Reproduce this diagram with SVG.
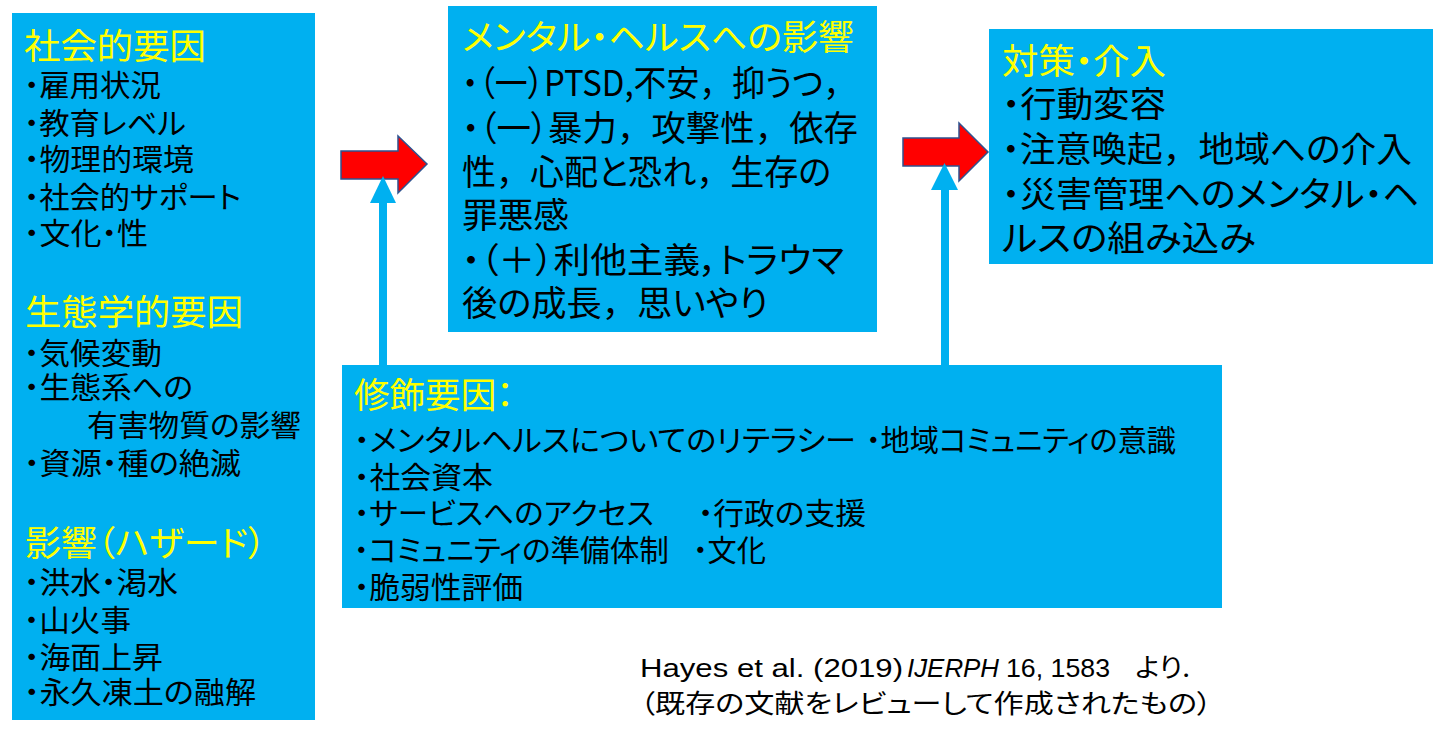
<svg xmlns="http://www.w3.org/2000/svg" width="1440" height="740" viewBox="0 0 1440 740">
<style>
.box{fill:#00B0F0}
text{font-family:"Noto Sans CJK JP","Noto Sans",sans-serif;font-feature-settings:"palt"}
.fw{font-feature-settings:normal}
.h{fill:#FFFF00;font-size:35px}
.t{fill:#000;font-size:30px}
.m{fill:#000;font-size:35px}
.c{fill:#000;font-size:25px;font-family:"Liberation Sans","Noto Sans CJK JP",sans-serif}
.cj{fill:#000;font-size:26px}
.red{fill:#FF0000;stroke:#2F528F;stroke-width:1.5}
.blue{fill:#00B0F0}
</style>
<rect width="1440" height="740" fill="#FFFFFF"/>

<g id="social-ecological-hazard">
<rect class="box" x="12" y="13" width="303" height="707"/>
<text class="h" x="24" y="59" textLength="182" lengthAdjust="spacingAndGlyphs">社会的要因</text>
<text class="t" x="24" y="96" textLength="137" lengthAdjust="spacingAndGlyphs">・雇用状況</text>
<text class="t" x="24" y="134" textLength="162" lengthAdjust="spacingAndGlyphs">・教育レベル</text>
<text class="t" x="24" y="170" textLength="170" lengthAdjust="spacingAndGlyphs">・物理的環境</text>
<text class="t" x="24" y="208" textLength="217" lengthAdjust="spacingAndGlyphs">・社会的サポート</text>
<text class="t" x="24" y="244" textLength="124" lengthAdjust="spacingAndGlyphs">・文化・性</text>
<text class="h" x="25" y="325" textLength="218" lengthAdjust="spacingAndGlyphs">生態学的要因</text>
<text class="t" x="24" y="364" textLength="138" lengthAdjust="spacingAndGlyphs">・気候変動</text>
<text class="t" x="24" y="398" textLength="169" lengthAdjust="spacingAndGlyphs">・生態系への</text>
<text class="t" x="87" y="436" textLength="214" lengthAdjust="spacingAndGlyphs">有害物質の影響</text>
<text class="t" x="24" y="474" textLength="217" lengthAdjust="spacingAndGlyphs">・資源・種の絶滅</text>
<text class="h" x="25" y="556" textLength="241" lengthAdjust="spacingAndGlyphs">影響（ハザード）</text>
<text class="t" x="24" y="593" textLength="154" lengthAdjust="spacingAndGlyphs">・洪水・渇水</text>
<text class="t" x="24" y="631" textLength="107" lengthAdjust="spacingAndGlyphs">・山火事</text>
<text class="t" x="24" y="668" textLength="139" lengthAdjust="spacingAndGlyphs">・海面上昇</text>
<text class="t" x="24" y="703" textLength="232" lengthAdjust="spacingAndGlyphs">・永久凍土の融解</text>
</g>

<g id="mental-health-impact">
<rect class="box" x="448" y="6" width="429" height="326"/>
<text class="h" x="462" y="50" textLength="392" lengthAdjust="spacingAndGlyphs">メンタル・ヘルスへの影響</text>
<text class="m" x="462" y="96" textLength="394" lengthAdjust="spacingAndGlyphs">・（一）PTSD,不安<tspan class="fw">，</tspan>抑うつ<tspan class="fw">，</tspan></text>
<text class="m" x="462" y="141" textLength="396" lengthAdjust="spacingAndGlyphs">・（一）暴力<tspan class="fw">，</tspan>攻撃性<tspan class="fw">，</tspan>依存</text>
<text class="m" x="462" y="185" textLength="369" lengthAdjust="spacingAndGlyphs">性<tspan class="fw">，</tspan>心配と恐れ<tspan class="fw">，</tspan>生存の</text>
<text class="m" x="462" y="228" textLength="107" lengthAdjust="spacingAndGlyphs">罪悪感</text>
<text class="m" x="462" y="273" textLength="382" lengthAdjust="spacingAndGlyphs">・（＋）利他主義，トラウマ</text>
<text class="m" x="462" y="316" textLength="306" lengthAdjust="spacingAndGlyphs">後の成長<tspan class="fw">，</tspan>思いやり</text>
</g>

<g id="countermeasures">
<rect class="box" x="989" y="29" width="444" height="235"/>
<text class="h" x="1002" y="74" textLength="164" lengthAdjust="spacingAndGlyphs">対策・介入</text>
<text class="m" x="1002" y="117" textLength="164" lengthAdjust="spacingAndGlyphs">・行動変容</text>
<text class="m" x="1002" y="162" textLength="410" lengthAdjust="spacingAndGlyphs">・注意喚起<tspan class="fw">，</tspan>地域への介入</text>
<text class="m" x="1002" y="207" textLength="417" lengthAdjust="spacingAndGlyphs">・災害管理へのメンタル・ヘ</text>
<text class="m" x="1002" y="251" textLength="254" lengthAdjust="spacingAndGlyphs">ルスの組み込み</text>
</g>

<g id="modifying-factors">
<rect class="box" x="342" y="365" width="880" height="243"/>
<text class="h" x="354" y="408" textLength="160" lengthAdjust="spacingAndGlyphs">修飾要因：</text>
<text class="t" x="354" y="451" textLength="502" lengthAdjust="spacingAndGlyphs">・メンタルヘルスについてのリテラシー</text>
<text class="t" x="866" y="451" textLength="310" lengthAdjust="spacingAndGlyphs">・地域コミュニティの意識</text>
<text class="t" x="354" y="488" textLength="139" lengthAdjust="spacingAndGlyphs">・社会資本</text>
<text class="t" x="354" y="524" textLength="300" lengthAdjust="spacingAndGlyphs">・サービスへのアクセス</text>
<text class="t" x="698" y="524" textLength="168" lengthAdjust="spacingAndGlyphs">・行政の支援</text>
<text class="t" x="354" y="561" textLength="315" lengthAdjust="spacingAndGlyphs">・コミュニティの準備体制</text>
<text class="t" x="693" y="561" textLength="73" lengthAdjust="spacingAndGlyphs">・文化</text>
<text class="t" x="354" y="598" textLength="169" lengthAdjust="spacingAndGlyphs">・脆弱性評価</text>
</g>

<g id="connectors">
<polygon class="red" points="341,151 398,151 398,136 427,164 398,193 398,179 341,179"/>
<polygon class="red" points="903,138 959,138 959,123 988,152 959,181 959,166 903,166"/>
<rect class="blue" x="379" y="201" width="8" height="165"/>
<polygon class="blue" points="370,203 396,203 383,176"/>
<rect class="blue" x="941" y="188" width="8" height="178"/>
<polygon class="blue" points="931,190 958,190 944.5,163"/>
</g>

<g id="citation">
<text class="c" x="640" y="677" textLength="263" lengthAdjust="spacingAndGlyphs">Hayes et al. (2019)</text>
<text class="c" x="907" y="677" textLength="92" lengthAdjust="spacingAndGlyphs" font-style="italic">IJERPH</text>
<text class="c" x="1006" y="677" textLength="104" lengthAdjust="spacingAndGlyphs">16, 1583</text>
<text class="cj" x="1135" y="677" textLength="55" lengthAdjust="spacingAndGlyphs">より.</text>
<text class="cj" x="640" y="713" textLength="572" lengthAdjust="spacingAndGlyphs">（既存の文献をレビューして作成されたもの）</text>
</g>
</svg>
